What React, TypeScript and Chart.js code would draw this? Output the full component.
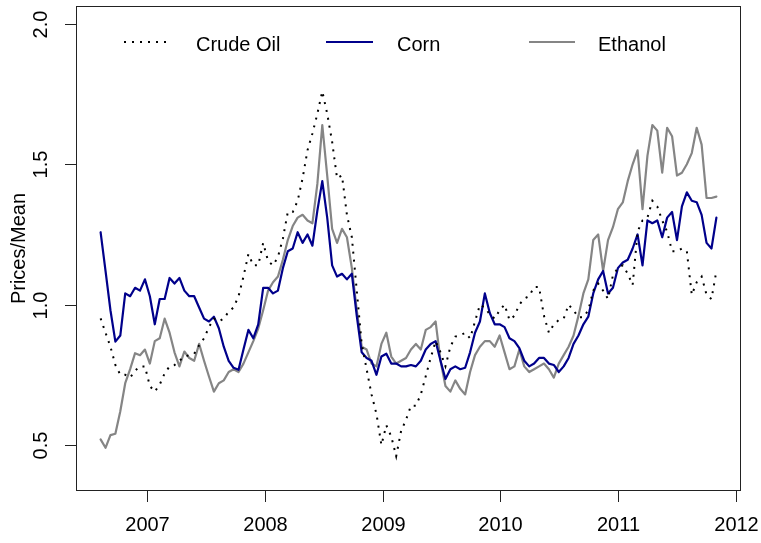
import React, { useEffect, useRef } from "react";
import { Chart, registerables } from "chart.js";

Chart.register(...registerables);

// Weekly-style observation window (decimal years) and plot limits (R adds 4% on each side)
const FIRST_OBS = 2006.602;
const LAST_OBS = 2011.835;
const X_MIN = 2006.393;
const X_MAX = 2012.044;
const Y_MIN = 0.336;
const Y_MAX = 2.064;

const yearTicks = [2007, 2008, 2009, 2010, 2011, 2012];
const valueTicks = [0.5, 1.0, 1.5, 2.0];
const valueTickLabels = ["0.5", "1.0", "1.5", "2.0"];
const seriesLabels = ["Crude Oil", "Corn", "Ethanol"];
const yTitle = "Prices/Mean";

const crudeOil = [
  0.951, 0.90, 0.85, 0.785, 0.75, 0.75, 0.74, 0.765, 0.78, 0.78,
  0.71, 0.69, 0.715, 0.755, 0.78, 0.785, 0.80, 0.815, 0.82, 0.825,
  0.855, 0.88, 0.92, 0.95, 0.94, 0.95, 0.975, 0.99, 1.03, 1.10,
  1.18, 1.14, 1.14, 1.22, 1.155, 1.14, 1.17, 1.235, 1.33, 1.33,
  1.37, 1.45, 1.55, 1.61, 1.68, 1.76, 1.68, 1.58, 1.45, 1.46,
  1.32, 1.24, 1.05, 0.86, 0.77, 0.68, 0.61, 0.50, 0.57, 0.53,
  0.46, 0.55, 0.59, 0.64, 0.64, 0.68, 0.745, 0.81, 0.87, 0.83,
  0.78, 0.85, 0.886, 0.89, 0.90, 0.88, 0.94, 1.0, 0.99, 0.965,
  0.95, 0.98, 1.0, 0.945, 0.96, 1.0, 1.022, 1.03, 1.063, 1.063,
  0.96, 0.90, 0.93, 0.945, 0.95, 1.0, 0.98, 0.955, 0.955, 0.98,
  1.05, 1.075, 1.05, 1.02, 1.105, 1.13, 1.14, 1.11, 1.07, 1.26,
  1.30, 1.31, 1.37, 1.35, 1.30, 1.26, 1.19, 1.19, 1.20, 1.19,
  1.035, 1.08, 1.10, 1.035, 1.02, 1.12,
];

const corn = [
  1.258, 1.12, 0.98, 0.868, 0.89, 1.04, 1.03, 1.06, 1.05, 1.09,
  1.03, 0.93, 1.02, 1.02, 1.095, 1.075, 1.095, 1.05, 1.03, 1.03,
  0.99, 0.95, 0.94, 0.957, 0.916, 0.85, 0.80, 0.775, 0.768, 0.84,
  0.91, 0.88, 0.93, 1.06, 1.06, 1.04, 1.05, 1.13, 1.19, 1.20,
  1.258, 1.22, 1.25, 1.21, 1.335, 1.44, 1.31, 1.14, 1.10, 1.11,
  1.09, 1.11, 0.96, 0.83, 0.81, 0.80, 0.75, 0.815, 0.825, 0.79,
  0.79, 0.78, 0.78, 0.785, 0.78, 0.80, 0.84, 0.86, 0.87, 0.80,
  0.735, 0.77, 0.78, 0.77, 0.775, 0.83, 0.90, 0.94, 1.04, 0.97,
  0.93, 0.93, 0.92, 0.88, 0.87, 0.845, 0.80, 0.78, 0.79, 0.81,
  0.81, 0.79, 0.785, 0.76, 0.78, 0.81, 0.86, 0.89, 0.93, 0.957,
  1.04, 1.09, 1.12, 1.04, 1.06, 1.13, 1.15, 1.16, 1.20, 1.25,
  1.14, 1.30, 1.29, 1.30, 1.24, 1.31, 1.33, 1.23, 1.35, 1.40,
  1.37, 1.365, 1.32, 1.22, 1.20, 1.31,
];

const ethanol = [
  0.52, 0.49, 0.535, 0.54, 0.62, 0.72, 0.77, 0.827, 0.82, 0.84,
  0.79, 0.87, 0.88, 0.95, 0.90, 0.83, 0.78, 0.833, 0.81, 0.80,
  0.86, 0.80, 0.744, 0.69, 0.72, 0.73, 0.76, 0.77, 0.76, 0.79,
  0.83, 0.87, 0.915, 0.98, 1.05, 1.08, 1.10, 1.16, 1.23, 1.28,
  1.31, 1.32, 1.30, 1.29, 1.43, 1.64, 1.46, 1.27, 1.22, 1.27,
  1.24, 1.13, 0.98, 0.85, 0.84, 0.79, 0.78, 0.86, 0.90, 0.815,
  0.79, 0.80, 0.81, 0.84, 0.86, 0.84, 0.91, 0.92, 0.94, 0.80,
  0.71, 0.69, 0.73, 0.70, 0.68, 0.76, 0.82, 0.85, 0.87, 0.87,
  0.85, 0.89, 0.83, 0.77, 0.78, 0.84, 0.78, 0.76, 0.77, 0.78,
  0.79, 0.77, 0.74, 0.79, 0.82, 0.85, 0.89, 0.96, 1.04, 1.09,
  1.23, 1.25, 1.12, 1.23, 1.276, 1.34, 1.364, 1.44, 1.50, 1.55,
  1.34, 1.53, 1.64, 1.62, 1.47, 1.63, 1.60, 1.46, 1.47, 1.50,
  1.54, 1.63, 1.57, 1.38, 1.38, 1.385,
];

// observation dates: evenly spaced sampling dates across the observation window
const obsDates = crudeOil.map(
  (_, i) => FIRST_OBS + (i * (LAST_OBS - FIRST_OBS)) / (crudeOil.length - 1)
);

const toPoints = (vals: number[]) => vals.map((v, i) => ({ x: obsDates[i], y: v }));

const FONT_FAMILY = '"Liberation Sans", Arial, Helvetica, sans-serif';
const TEXT_COLOR = "#000000";
const CRUDE_COLOR = "#000000";
const CORN_COLOR = "#00008b";
const ETHANOL_COLOR = "#858585";

const rStylePlugin = {
  id: "rStyle",
  afterDraw(chart: any) {
    const { ctx, chartArea: a, scales } = chart;
    const xs = scales.x;
    const ys = scales.y;
    ctx.save();

    // box
    ctx.strokeStyle = "#222";
    ctx.lineWidth = 1;
    ctx.setLineDash([]);
    ctx.strokeRect(a.left + 0.5, a.top + 0.5, a.right - a.left - 1, a.bottom - a.top - 1);

    ctx.font = "20px " + FONT_FAMILY;
    ctx.fillStyle = TEXT_COLOR;

    // x axis ticks + labels
    yearTicks.forEach((yr) => {
      const px = Math.round(xs.getPixelForValue(yr)) + 0.5;
      ctx.beginPath();
      ctx.moveTo(px, a.bottom - 0.5);
      ctx.lineTo(px, a.bottom + 11);
      ctx.stroke();
      ctx.textAlign = "center";
      ctx.textBaseline = "alphabetic";
      ctx.fillText(String(yr), px, 531);
    });

    // y axis ticks + rotated labels
    valueTicks.forEach((v, i) => {
      const py = Math.round(ys.getPixelForValue(v)) + 0.5;
      ctx.beginPath();
      ctx.moveTo(a.left + 0.5, py);
      ctx.lineTo(a.left - 11, py);
      ctx.stroke();
      ctx.save();
      ctx.translate(47, py);
      ctx.rotate(-Math.PI / 2);
      ctx.textAlign = "center";
      ctx.textBaseline = "alphabetic";
      ctx.fillText(valueTickLabels[i], 0, 0);
      ctx.restore();
    });

    // y title
    ctx.save();
    ctx.translate(25, (a.top + a.bottom) / 2);
    ctx.rotate(-Math.PI / 2);
    ctx.textAlign = "center";
    ctx.textBaseline = "alphabetic";
    ctx.fillText(yTitle, 0, 0);
    ctx.restore();

    // legend (inside plot, horizontal, no box)
    const legendY = 42;
    const items = [
      { label: seriesLabels[0], color: CRUDE_COLOR, dash: [2, 6], width: 2, x0: 124, x1: 171, tx: 196 },
      { label: seriesLabels[1], color: CORN_COLOR, dash: [], width: 2.2, x0: 326, x1: 373, tx: 397 },
      { label: seriesLabels[2], color: ETHANOL_COLOR, dash: [], width: 2.2, x0: 529, x1: 575, tx: 598 },
    ];
    items.forEach((it) => {
      ctx.beginPath();
      ctx.strokeStyle = it.color;
      ctx.lineWidth = it.width;
      ctx.setLineDash(it.dash);
      ctx.lineCap = "butt";
      ctx.moveTo(it.x0, legendY);
      ctx.lineTo(it.x1, legendY);
      ctx.stroke();
      ctx.setLineDash([]);
      ctx.fillStyle = TEXT_COLOR;
      ctx.textAlign = "left";
      ctx.textBaseline = "alphabetic";
      ctx.fillText(it.label, it.tx, 50.5);
    });

    ctx.restore();
  },
};

export default function App() {
  const canvasRef = useRef<HTMLCanvasElement | null>(null);

  useEffect(() => {
    const canvas = canvasRef.current;
    if (!canvas) return;
    const chart = new Chart(canvas, {
      type: "line",
      data: {
        datasets: [
          {
            label: seriesLabels[0],
            data: toPoints(crudeOil),
            borderColor: CRUDE_COLOR,
            borderWidth: 2,
            borderDash: [2, 6],
            borderCapStyle: "butt",
            pointRadius: 0,
            tension: 0,
            fill: false,
            order: 0,
          },
          {
            label: seriesLabels[1],
            data: toPoints(corn),
            borderColor: CORN_COLOR,
            borderWidth: 2.2,
            borderJoinStyle: "round",
            borderCapStyle: "round",
            pointRadius: 0,
            tension: 0,
            fill: false,
            order: 1,
          },
          {
            label: seriesLabels[2],
            data: toPoints(ethanol),
            borderColor: ETHANOL_COLOR,
            borderWidth: 2.2,
            borderJoinStyle: "round",
            borderCapStyle: "round",
            pointRadius: 0,
            tension: 0,
            fill: false,
            order: 2,
          },
        ],
      },
      options: {
        animation: false,
        responsive: false,
        devicePixelRatio: 1,
        parsing: false as any,
        layout: { padding: { left: 76, top: 6, right: 20, bottom: 52 } },
        plugins: {
          legend: { display: false },
          tooltip: { enabled: false },
        },
        scales: {
          x: { type: "linear", min: X_MIN, max: X_MAX, display: false },
          y: { type: "linear", min: Y_MIN, max: Y_MAX, display: false },
        },
      },
      plugins: [rStylePlugin],
    });
    return () => chart.destroy();
  }, []);

  return (
    <div
      style={{
        position: "fixed",
        left: 0,
        top: 0,
        width: 761,
        height: 543,
        background: "#ffffff",
      }}
    >
      <canvas
        ref={canvasRef}
        width={761}
        height={543}
        style={{ display: "block", width: 761, height: 543 }}
      />
    </div>
  );
}
